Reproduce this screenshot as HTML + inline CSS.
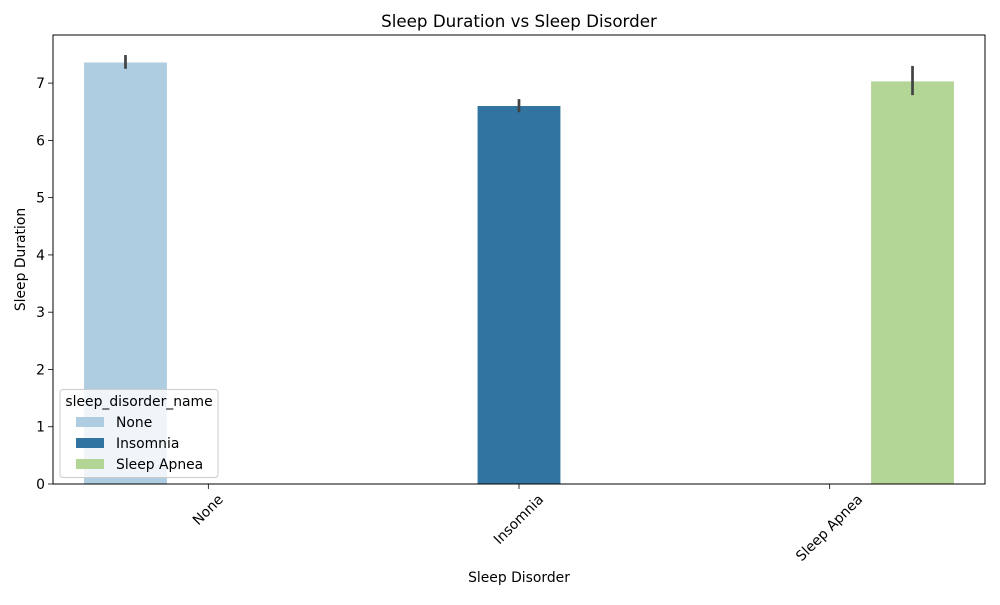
<!DOCTYPE html>
<html><head><meta charset="utf-8"><style>
body{margin:0;background:#fff;font-family:"Liberation Sans","DejaVu Sans",sans-serif}
text{font-family:"DejaVu Sans","Liberation Sans",sans-serif}
</style></head><body>
<svg width="1000" height="600">
<g id="g"></g>
</svg>
<script>
const categories=["None","Insomnia","Sleep Apnea"];
const values=[7.36,6.60,7.03];
const errLow=[7.25,6.49,6.79];
const errHigh=[7.49,6.72,7.30];
const yTicks=[0,1,2,3,4,5,6,7];
const colors=["#aecde1","#3274a1","#b3d595"];
const L=53,R=985,T=35,B=484,yMax=7.84;
const band=(R-L)/3;
const xC=i=>L+band*(i+0.5);
const y=v=>B-(B-T)*v/yMax;
const g=document.getElementById('g');
const NS="http://www.w3.org/2000/svg";
function mk(t,a,txt){const e=document.createElementNS(NS,t);for(const k in a)e.setAttribute(k,a[k]);if(txt!=null)e.textContent=txt;g.appendChild(e);return e;}
const bw=band*0.8/3;
const FS=13.9;
categories.forEach((c,i)=>{
  const cx=xC(i)+(i-1)*bw;
  const b=mk('rect',{x:cx-bw/2,y:y(values[i]),width:bw,height:B-y(values[i]),fill:colors[i]});
  
  
  const e=mk('line',{x1:cx,x2:cx,y1:y(errLow[i]),y2:y(errHigh[i]),stroke:'#424242','stroke-width':2.7});
  
  
  const tx=xC(i);
  mk('line',{x1:tx,x2:tx,y1:B,y2:B+5,stroke:'#000','stroke-width':0.8});
  const t=mk('text',{x:tx,y:B,'font-size':FS,'text-anchor':'middle','dominant-baseline':'central'},c);
  const w=t.getComputedTextLength();
  const cy=B+8.5+(w+FS)*0.707/2;
  t.setAttribute('y',cy);
  t.setAttribute('transform',`rotate(-45 ${tx} ${cy})`);
  
  
});
yTicks.forEach(v=>{
  mk('line',{x1:L-5,x2:L,y1:y(v),y2:y(v),stroke:'#000','stroke-width':0.8});
  const t=mk('text',{x:L-8,y:y(v)+5,'font-size':FS,'text-anchor':'end'},v);
  
  
});
mk('rect',{x:L,y:T,width:R-L,height:B-T,fill:'none',stroke:'#000','stroke-width':1});
const ti=mk('text',{x:(L+R)/2,y:27,'font-size':16.7,'text-anchor':'middle'},'Sleep Duration vs Sleep Disorder');

const xt=mk('text',{x:(L+R)/2,y:582,'font-size':FS,'text-anchor':'middle'},'Sleep Disorder');

const yt=mk('text',{x:25,y:(T+B)/2,'font-size':FS,'text-anchor':'middle',transform:`rotate(-90 25 ${(T+B)/2})`},'Sleep Duration');

const lg=mk('rect',{x:60,y:389.5,width:158,height:88,rx:3,fill:'#fff','fill-opacity':0.8,stroke:'#ccc'});

mk('text',{x:139,y:406,'font-size':FS,'text-anchor':'middle'},'sleep_disorder_name');
categories.forEach((c,i)=>{
  const yy=422+i*21;
  mk('rect',{x:76,y:yy-5,width:28,height:10,fill:colors[i]});
  const t=mk('text',{x:116,y:yy+5,'font-size':FS},c);
  
  
});
</script>
</body></html>
